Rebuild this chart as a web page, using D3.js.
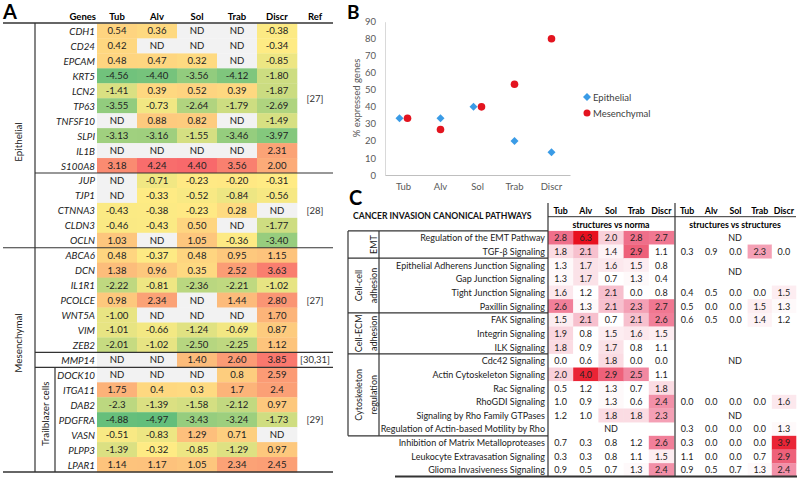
<!DOCTYPE html>
<html><head><meta charset="utf-8">
<script src="https://cdn.jsdelivr.net/npm/d3@7"></script>
<style>
body{margin:0;background:#fff}
svg{display:block;font-family:Lato,"Open Sans",sans-serif}
</style>
</head><body>
<svg id="chart" width="799" height="479"></svg>
<script>
// ---------------- Panel A data ----------------
const genes = ["CDH1","CD24","EPCAM","KRT5","LCN2","TP63","TNFSF10","SLPI","IL1B","S100A8",
  "JUP","TJP1","CTNNA3","CLDN3","OCLN",
  "ABCA6","DCN","IL1R1","PCOLCE","WNT5A","VIM","ZEB2",
  "MMP14",
  "DOCK10","ITGA11","DAB2","PDGFRA","VASN","PLPP3","LPAR1"];
const structures = ["Tub","Alv","Sol","Trab","Discr"];
const tubA   = ["0.54","0.42","0.48","-4.56","-1.41","-3.55","ND","-3.13","ND","3.18","ND","ND","-0.43","-0.46","1.03","0.48","1.38","-2.22","0.98","-1.00","-1.01","-2.01","ND","ND","1.75","-2.3","-4.88","-0.51","-1.39","1.14"];
const alvA   = ["0.36","ND","0.47","-4.40","0.39","-0.73","0.88","-3.16","ND","4.24","-0.71","-0.33","-0.38","-0.43","ND","-0.37","0.96","-0.81","2.34","ND","-0.66","-1.02","ND","ND","0.4","-1.39","-4.97","-0.83","-0.32","1.17"];
const solA   = ["ND","ND","0.32","-3.56","0.52","-2.64","0.82","-1.55","ND","4.40","-0.23","-0.52","-0.23","0.50","1.05","0.48","0.35","-2.36","ND","ND","-1.24","-2.50","1.40","ND","0.3","-1.58","-3.43","1.29","-0.85","1.05"];
const trabA  = ["ND","ND","ND","-4.12","0.39","-1.79","ND","-3.46","ND","3.56","-0.20","-0.84","0.28","ND","-0.36","0.95","2.52","-2.21","1.44","ND","-0.69","-2.25","2.60","0.8","1.7","-2.12","-3.24","0.71","-1.29","2.34"];
const discrA = ["-0.38","-0.34","-0.85","-1.80","-1.87","-2.69","-1.49","-3.97","2.31","2.00","-0.31","-0.56","ND","-1.77","-3.40","1.15","3.63","-1.02","2.80","1.70","0.87","1.12","3.85","2.59","2.4","0.97","-1.73","ND","0.97","2.45"];
const geneGroups = [{label:"Epithelial",start:0,end:15},{label:"Mesenchymal",start:15,end:30}];
const subGroups = [{label:"Trailblazer cells",start:23,end:30}];
const refs = [{label:"[27]",start:0,end:10},{label:"[28]",start:10,end:15},{label:"[27]",start:15,end:22},{label:"[30,31]",start:22,end:23},{label:"[29]",start:23,end:30}];

// ---------------- Panel B data ----------------
const categoriesB = ["Tub","Alv","Sol","Trab","Discr"];
const epithelialPct = [33.3,33.3,40.0,20.0,13.3];
const mesenchymalPct = [33.3,26.7,40.0,53.3,80.0];
const yTicksB = [0,10,20,30,40,50,60,70,80,90];

// ---------------- Panel C data ----------------
const pathways = ["Regulation of the EMT Pathway","TGF-β Signaling","Epithelial Adherens Junction Signaling","Gap Junction Signaling",
  "Tight Junction Signaling","Paxillin Signaling","FAK Signaling","Integrin Signaling","ILK Signaling","Cdc42 Signaling",
  "Actin Cytoskeleton Signaling","Rac Signaling","RhoGDI Signaling","Signaling by Rho Family GTPases",
  "Regulation of Actin-based Motility by Rho","Inhibition of Matrix Metalloproteases","Leukocyte Extravasation Signaling","Glioma Invasiveness Signaling"];
const pathwayGroups = [{label:["EMT"],start:0,end:2},{label:["Cell-cell","adhesion"],start:2,end:6},
  {label:["Cell-ECM","adhesion"],start:6,end:9},{label:["Cytoskeleton","regulation"],start:9,end:15}];
const vsNormTub   = ["2.8","1.8","1.3","1.3","1.6","2.6","1.5","1.9","1.8","0.0","2.0","0.5","1.0","1.2","ND","0.7","0.3","0.9"];
const vsNormAlv   = ["6.3","2.1","1.7","1.7","1.2","1.3","2.1","0.8","0.9","0.6","4.0","1.2","0.9","1.0","ND","0.3","0.3","0.5"];
const vsNormSol   = ["2.0","1.4","1.6","0.7","2.1","2.1","0.7","1.5","1.7","1.8","2.9","1.3","1.3","1.8","ND","0.8","0.8","0.7"];
const vsNormTrab  = ["2.8","2.9","1.5","1.3","0.0","2.3","2.1","1.6","0.8","0.0","2.5","0.7","0.6","1.8","ND","1.2","1.1","1.3"];
const vsNormDiscr = ["2.7","1.1","0.8","0.4","0.8","2.7","2.6","1.5","1.1","0.0","1.1","1.8","2.4","2.3","ND","2.6","1.5","2.4"];
const vsStrTub    = ["ND","0.3","ND","ND","0.4","0.5","0.6","ND","ND","ND","ND","ND","0.0","ND","0.3","0.3","1.1","0.9"];
const vsStrAlv    = ["ND","0.9","ND","ND","0.5","0.0","0.5","ND","ND","ND","ND","ND","0.0","ND","0.0","0.0","0.0","0.5"];
const vsStrSol    = ["ND","0.0","ND","ND","0.0","0.0","0.0","ND","ND","ND","ND","ND","0.0","ND","0.0","0.0","0.0","0.7"];
const vsStrTrab   = ["ND","2.3","ND","ND","0.0","1.5","1.4","ND","ND","ND","ND","ND","0.0","ND","0.0","0.0","0.7","1.3"];
const vsStrDiscr  = ["ND","0.0","ND","ND","1.5","1.3","1.2","ND","ND","ND","ND","ND","1.6","ND","1.3","3.9","2.9","2.4"];

// =============================================================
const svg = d3.select("#chart");
const LINE = "#333";

// ---------------- Panel A ----------------
const gA = svg.append("g");
const yA = d3.scaleBand().domain(d3.range(genes.length)).range([23.5, 472]);
const xA = d3.scaleBand().domain(structures).range([97, 297]);
const colsA = [tubA, alvA, solA, trabA, discrA];
const numsA = colsA.flat().filter(v => v !== "ND").map(Number);
const colorA = d3.scaleLinear().domain([d3.min(numsA), -0.3, d3.max(numsA)])
  .range(["#63BE7B","#FFEB84","#F8696B"]);

gA.append("text").attr("x",3).attr("y",19).attr("font-size",20).attr("font-weight","bold").text("A");
gA.append("text").attr("x",96).attr("y",16).attr("text-anchor","end").attr("dominant-baseline","central")
  .attr("font-size",9.5).attr("font-weight","bold").text("Genes");
structures.forEach(s => gA.append("text").attr("x", xA(s)+xA.bandwidth()/2).attr("y",16)
  .attr("text-anchor","middle").attr("dominant-baseline","central").attr("font-size",9.5).attr("font-weight","bold").text(s));
gA.append("text").attr("x",315).attr("y",16).attr("text-anchor","middle").attr("dominant-baseline","central")
  .attr("font-size",9.5).attr("font-weight","bold").text("Ref");

const cellsA = [];
colsA.forEach((col, ci) => col.forEach((v, ri) => cellsA.push({s: structures[ci], r: ri, v})));
gA.selectAll("rect.cell").data(cellsA).join("rect").attr("class","cell")
  .attr("x", d => xA(d.s)).attr("y", d => yA(d.r))
  .attr("width", xA.bandwidth()+0.3).attr("height", yA.bandwidth()+0.3)
  .attr("fill", d => d.v === "ND" ? "#F2F2F2" : colorA(+d.v));
gA.selectAll("text.val").data(cellsA).join("text").attr("class","val")
  .attr("x", d => xA(d.s)+xA.bandwidth()/2).attr("y", d => yA(d.r)+yA.bandwidth()/2)
  .attr("text-anchor","middle").attr("dominant-baseline","central").attr("font-size",9.6).attr("fill","#222")
  .text(d => d.v);

gA.selectAll("text.gene").data(genes).join("text").attr("class","gene")
  .attr("x",95).attr("y",(d,i) => yA(i)+yA.bandwidth()/2)
  .attr("text-anchor","end").attr("dominant-baseline","central").attr("font-size",9.8)
  .attr("font-style","italic").attr("fill","#222").text(d => d);

refs.forEach(r => gA.append("text").attr("x",315).attr("y",(yA(r.start)+yA(r.end-1)+yA.bandwidth())/2)
  .attr("text-anchor","middle").attr("dominant-baseline","central").attr("font-size",9.5).attr("fill","#333").text(r.label));

const groupY = [142, 343];
geneGroups.forEach((g,i) => gA.append("text").attr("transform",`translate(18,${groupY[i]}) rotate(-90)`)
  .attr("text-anchor","middle").attr("dominant-baseline","central").attr("font-size",9.8).attr("fill","#222").text(g.label));
subGroups.forEach(g => gA.append("text").attr("transform",`translate(45,${(yA(g.start)+472)/2 - 6}) rotate(-90)`)
  .attr("text-anchor","middle").attr("dominant-baseline","central").attr("font-size",9.8).attr("fill","#222").text(g.label));

function hline(g,x1,x2,y,w){ g.append("line").attr("x1",x1).attr("x2",x2).attr("y1",y).attr("y2",y).attr("stroke",LINE).attr("stroke-width",w); }
function vline(g,x,y1,y2,w){ g.append("line").attr("x1",x).attr("x2",x).attr("y1",y1).attr("y2",y2).attr("stroke",LINE).attr("stroke-width",w); }
hline(gA,3,333,23,1.5);
hline(gA,3,333,472,1.5);
const groupBounds = geneGroups.slice(1).map(g => g.start);
refs.slice(1).forEach(r => {
  const full = groupBounds.includes(r.start);
  hline(gA, full ? 3 : 35, 333, yA(r.start), 1.2);
});
vline(gA,35,23,472,1.2);
subGroups.forEach(g => vline(gA,55,yA(g.start),472,1.2));

// ---------------- Panel B ----------------
const gB = svg.append("g");
const xB = d3.scaleBand().domain(categoriesB).range([385, 570]);
const yB = d3.scaleLinear().domain([0, 90]).range([175, 21.7]);
gB.append("text").attr("x",347).attr("y",19).attr("font-size",19).attr("font-weight","bold").text("B");
const yAxis = gB.append("g").attr("transform","translate(385,0)")
  .call(d3.axisLeft(yB).tickValues(yTicksB).tickSize(0).tickPadding(9));
yAxis.select(".domain").attr("stroke","#d9d9d9");
yAxis.selectAll("text").attr("font-size",9.5).attr("fill","#595959").attr("font-family","Lato");
const xAxis = gB.append("g").attr("transform","translate(0,175)")
  .call(d3.axisBottom(xB).tickSize(0).tickPadding(8));
xAxis.select(".domain").attr("stroke","#bfbfbf");
xAxis.selectAll("text").attr("font-size",9.5).attr("fill","#595959").attr("font-family","Lato");
gB.append("text").attr("transform","translate(356,98) rotate(-90)").attr("text-anchor","middle")
  .attr("dominant-baseline","central").attr("font-size",9.5).attr("fill","#595959").text("% expressed genes");

const BLUE = "#3A9BE6", RED = "#E3141F";
const diamond = d3.symbol(d3.symbolSquare, 32)();
const ptsB = categoriesB.map((c,i) => ({c, e: epithelialPct[i], m: mesenchymalPct[i]}));
const off = d => d.e === d.m ? 4 : 0;
gB.selectAll("path.ep").data(ptsB).join("path").attr("class","ep")
  .attr("d", diamond).attr("fill", BLUE)
  .attr("transform", d => `translate(${xB(d.c)+xB.bandwidth()/2-off(d)},${yB(d.e)}) rotate(45)`);
gB.selectAll("circle.me").data(ptsB).join("circle").attr("class","me")
  .attr("cx", d => xB(d.c)+xB.bandwidth()/2+off(d)).attr("cy", d => yB(d.m)).attr("r",3.8).attr("fill", RED);
gB.append("path").attr("d", diamond).attr("fill", BLUE).attr("transform","translate(587,97) rotate(45)");
gB.append("text").attr("x",593).attr("y",97).attr("dominant-baseline","central").attr("font-size",9.5).attr("fill","#404040").text("Epithelial");
gB.append("circle").attr("cx",587).attr("cy",113).attr("r",3.5).attr("fill",RED);
gB.append("text").attr("x",593).attr("y",113).attr("dominant-baseline","central").attr("font-size",9.5).attr("fill","#404040").text("Mesenchymal");

// ---------------- Panel C ----------------
const gC = svg.append("g");
const yC = d3.scaleBand().domain(d3.range(pathways.length)).range([230.9, 476.8]);
const xCL = d3.scaleBand().domain(structures).range([548, 674]);
const xCR = d3.scaleBand().domain(structures).range([675, 796]);
const colorC = d3.scaleLinear().domain([1.2, 2.0, 2.4, 2.8, 3.3, 6.3])
  .range(["#ffffff","#f9d0da","#f290a8","#ef6f8a","#ea2a3c","#e8101e"]).clamp(true);
const normCols = [vsNormTub, vsNormAlv, vsNormSol, vsNormTrab, vsNormDiscr];
const strCols = [vsStrTub, vsStrAlv, vsStrSol, vsStrTrab, vsStrDiscr];

gC.append("text").attr("x",349).attr("y",205).attr("font-size",20).attr("font-weight","bold").text("C");
gC.append("text").attr("x",353).attr("y",216).attr("dominant-baseline","central").attr("font-size",8.6)
  .attr("font-weight","bold").attr("fill","#111").text("CANCER INVASION CANONICAL PATHWAYS");
[xCL, xCR].forEach(xs => structures.forEach(s => gC.append("text").attr("x", xs(s)+xs.bandwidth()/2).attr("y",210.5)
  .attr("text-anchor","middle").attr("dominant-baseline","central").attr("font-size",8.8).attr("font-weight","bold").text(s)));
gC.append("text").attr("x",611).attr("y",224).attr("text-anchor","middle").attr("dominant-baseline","central")
  .attr("font-size",8.8).attr("font-weight","bold").text("structures vs norma");
gC.append("text").attr("x",735).attr("y",224).attr("text-anchor","middle").attr("dominant-baseline","central")
  .attr("font-size",8.8).attr("font-weight","bold").text("structures vs structures");

function drawBlock(cols, xs, cx){
  const cells = [];
  cols.forEach((col,ci) => col.forEach((v,ri) => { if (v !== "ND") cells.push({s: structures[ci], r: ri, v}); }));
  gC.append("g").selectAll("rect").data(cells).join("rect")
    .attr("x", d => xs(d.s)).attr("y", d => yC(d.r)).attr("width", xs.bandwidth()+0.3).attr("height", yC.bandwidth()+0.3)
    .attr("fill", d => colorC(+d.v));
  gC.append("g").selectAll("text").data(cells).join("text")
    .attr("x", d => xs(d.s)+xs.bandwidth()/2).attr("y", d => yC(d.r)+yC.bandwidth()/2)
    .attr("text-anchor","middle").attr("dominant-baseline","central").attr("font-size",9).attr("fill","#222").text(d => d.v);
  // runs of rows that are ND in every column -> single merged label
  const nd = d3.range(pathways.length).map(r => cols.every(c => c[r] === "ND"));
  let r = 0;
  while (r < nd.length) {
    if (nd[r]) { let e = r; while (e+1 < nd.length && nd[e+1]) e++;
      gC.append("text").attr("x", cx).attr("y", (yC(r)+yC(e)+yC.bandwidth())/2)
        .attr("text-anchor","middle").attr("dominant-baseline","central").attr("font-size",9).attr("fill","#222").text("ND");
      r = e+1; } else r++;
  }
}
drawBlock(normCols, xCL, 611);
drawBlock(strCols, xCR, 735);

gC.selectAll("text.pw").data(pathways).join("text").attr("class","pw")
  .attr("x",545).attr("y",(d,i) => yC(i)+yC.bandwidth()/2)
  .attr("text-anchor","end").attr("dominant-baseline","central").attr("font-size",9).attr("fill","#222").text(d => d);

pathwayGroups.forEach(g => {
  const cy = (yC(g.start)+yC(g.end-1)+yC.bandwidth())/2;
  const xsLines = g.label.length === 1 ? [373] : [358, 373];
  g.label.forEach((t,k) => gC.append("text").attr("transform",`translate(${xsLines[k]},${cy}) rotate(-90)`)
    .attr("text-anchor","middle").attr("dominant-baseline","central").attr("font-size",9).attr("fill","#222").text(t));
});

const lastGroupEnd = d3.max(pathwayGroups, g => g.end);
hline(gC, 548, 796, 216.7, 1);
hline(gC, 348, 548, 230.9, 1.2);
pathwayGroups.forEach(g => hline(gC, 348, 548, yC(g.end), 1.2));
vline(gC, 348, 230.9, yC(lastGroupEnd), 1.2);
vline(gC, 379, 230.9, yC(lastGroupEnd), 1.2);
vline(gC, 548, 203, 476.8, 1.2);
vline(gC, 675, 203, 476.8, 1.2);
hline(gC, 395, 797, 476.5, 1.8);
</script>
</body></html>
